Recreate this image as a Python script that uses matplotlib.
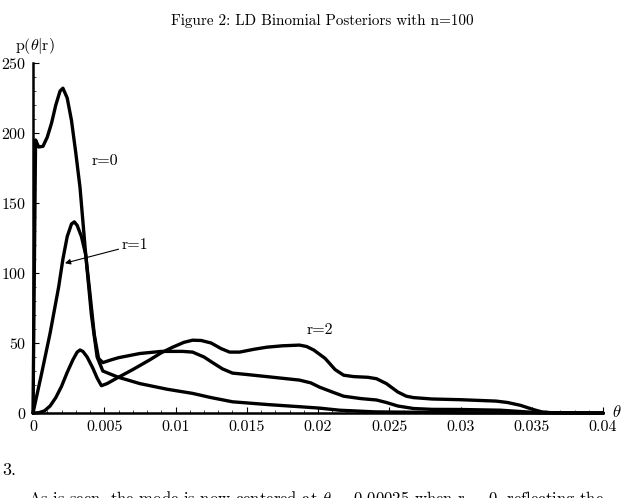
"""LD binomial posteriors p(theta|r) for n=100, r = 0, 1, 2."""
import matplotlib.pyplot as plt
from matplotlib.ticker import MultipleLocator

# values
theta_r0 = [0.0, 0.00018, 0.0004, 0.0007, 0.0010, 0.0013, 0.0016, 0.0019, 0.0021,
            0.0024, 0.0027, 0.0030, 0.0033, 0.0037, 0.0041, 0.0045, 0.0049, 0.0055,
            0.0060, 0.0075, 0.0094, 0.0112, 0.0125, 0.0140, 0.0165, 0.0187, 0.0201,
            0.0215, 0.0240, 0.0300, 0.0400]
p_r0 = [0.0, 195.0, 190.0, 190.5, 197.0, 207.0, 220.0, 230.0, 232.0,
        225.0, 209.0, 186.0, 161.0, 113.0, 70.0, 40.0, 30.0, 27.5,
        25.5, 21.0, 17.0, 14.0, 11.0, 8.0, 6.0, 4.5, 3.5,
        2.0, 0.8, 0.2, 0.0]

theta_r1 = [0.0, 0.0006, 0.0012, 0.0018, 0.0021, 0.0024, 0.0027, 0.0029, 0.0031,
            0.0034, 0.0037, 0.0040, 0.0043, 0.0046, 0.0049, 0.0055, 0.0060, 0.0075,
            0.0090, 0.0105, 0.0112, 0.0120, 0.0126, 0.0133, 0.0140, 0.0150, 0.0164,
            0.0187, 0.0195, 0.0201, 0.0210, 0.0218, 0.0230, 0.0241, 0.0248, 0.0256,
            0.0267, 0.0280, 0.0300, 0.0328, 0.0340, 0.0355, 0.0400]
p_r1 = [0.0, 28.0, 57.0, 90.0, 110.0, 126.0, 135.0, 136.5, 134.0,
        126.0, 113.0, 85.0, 56.0, 39.0, 36.0, 38.0, 39.5, 42.5,
        44.0, 44.0, 43.5, 40.0, 36.0, 31.5, 28.5, 27.5, 26.0,
        23.5, 21.5, 18.5, 15.0, 12.0, 10.3, 9.3, 7.5, 5.0,
        3.2, 2.6, 2.5, 2.0, 1.2, 0.2, 0.0]

theta_r2 = [0.0, 0.0004, 0.0008, 0.0012, 0.0016, 0.0020, 0.0024, 0.0028, 0.0031,
            0.0033, 0.0035, 0.0038, 0.0042, 0.0045, 0.0048, 0.0052, 0.0059, 0.0070,
            0.0082, 0.0090, 0.0098, 0.0106, 0.0112, 0.0118, 0.0125, 0.0132, 0.0138,
            0.0145, 0.0155, 0.0164, 0.0175, 0.0187, 0.0192, 0.0197, 0.0205, 0.0212,
            0.0218, 0.0225, 0.0235, 0.0241, 0.0248, 0.0256, 0.0262, 0.0267, 0.0280,
            0.0300, 0.0325, 0.0333, 0.0342, 0.0351, 0.0357, 0.0365, 0.0400]
p_r2 = [0.0, 0.2, 1.5, 5.0, 11.0, 19.0, 29.0, 38.0, 43.5,
        45.0, 44.0, 40.0, 32.0, 25.0, 19.5, 21.0, 25.0, 31.0,
        38.0, 43.0, 47.0, 50.5, 52.0, 51.8, 50.0, 46.0, 43.5,
        43.5, 45.5, 47.0, 48.0, 48.5, 47.5, 45.0, 39.0, 31.0,
        27.0, 26.0, 25.5, 24.5, 21.0, 15.0, 12.0, 11.0, 10.0,
        9.5, 8.5, 7.5, 5.5, 2.5, 0.8, 0.1, 0.0]

x_ticks = [0, 0.005, 0.01, 0.015, 0.02, 0.025, 0.03, 0.035, 0.04]
x_tick_labels = ["0", "0.005", "0.01", "0.015", "0.02", "0.025", "0.03", "0.035", "0.04"]

plt.rcParams["font.family"] = "serif"
plt.rcParams["font.serif"] = ["cmr10", "DejaVu Serif"]
plt.rcParams["mathtext.fontset"] = "cm"
plt.rcParams["axes.formatter.use_mathtext"] = True

fig = plt.figure(figsize=(6.24, 4.98), dpi=100)
ax = fig.add_axes([33 / 624, 1 - 413 / 498, 570 / 624, 350 / 498])

for th, p in [(theta_r0, p_r0), (theta_r1, p_r1), (theta_r2, p_r2)]:
    ax.plot(th, p, color="black", lw=2.4, solid_joinstyle="round",
            solid_capstyle="round", clip_on=False)

ax.set_xlim(0, 0.04)
ax.set_ylim(0, 250)
ax.spines["top"].set_visible(False)
ax.spines["right"].set_visible(False)
ax.spines["left"].set_linewidth(1.8)
ax.spines["bottom"].set_linewidth(1.8)
ax.xaxis.set_minor_locator(MultipleLocator(0.001))
ax.yaxis.set_major_locator(MultipleLocator(50))
ax.yaxis.set_minor_locator(MultipleLocator(10))
ax.set_xticks(x_ticks, x_tick_labels)
ax.tick_params(which="major", direction="in", length=4, width=0.8, labelsize=11.5, pad=5)
ax.tick_params(which="minor", direction="in", length=2, width=0.5)

ax.text(0.00414, 180, "r=0", fontsize=11.5, ha="left", va="center")
ax.annotate("r=1", xy=(0.00224, 107), xytext=(0.0062, 120), fontsize=11.5,
            ha="left", va="center",
            arrowprops=dict(arrowstyle="-|>", color="black", lw=0.8,
                            shrinkA=0, shrinkB=0, mutation_scale=8))
ax.text(0.0201, 59, "r=2", fontsize=11.5, ha="center", va="center")

fig.text(35 / 624, 1 - 46 / 498, r"p($\theta|$r)", fontsize=11.5, ha="center", va="center")
fig.text(617 / 624, 1 - 412 / 498, r"$\theta$", fontsize=12, ha="center", va="center")
fig.text(0.516, 1 - 21 / 498, "Figure 2: LD Binomial Posteriors with n=100",
         fontsize=10.9, ha="center", va="center")

fig.text(2 / 624, 1 - 470 / 498, "3.", fontsize=13, ha="left", va="center")
fig.text(28 / 624, -0.011,
         r"As is seen, the mode is now centered at $\theta$ = 0.00025 when r = 0, reflecting the",
         fontsize=12, ha="left", va="baseline")

fig.savefig("out.png", dpi=100, facecolor="white")
